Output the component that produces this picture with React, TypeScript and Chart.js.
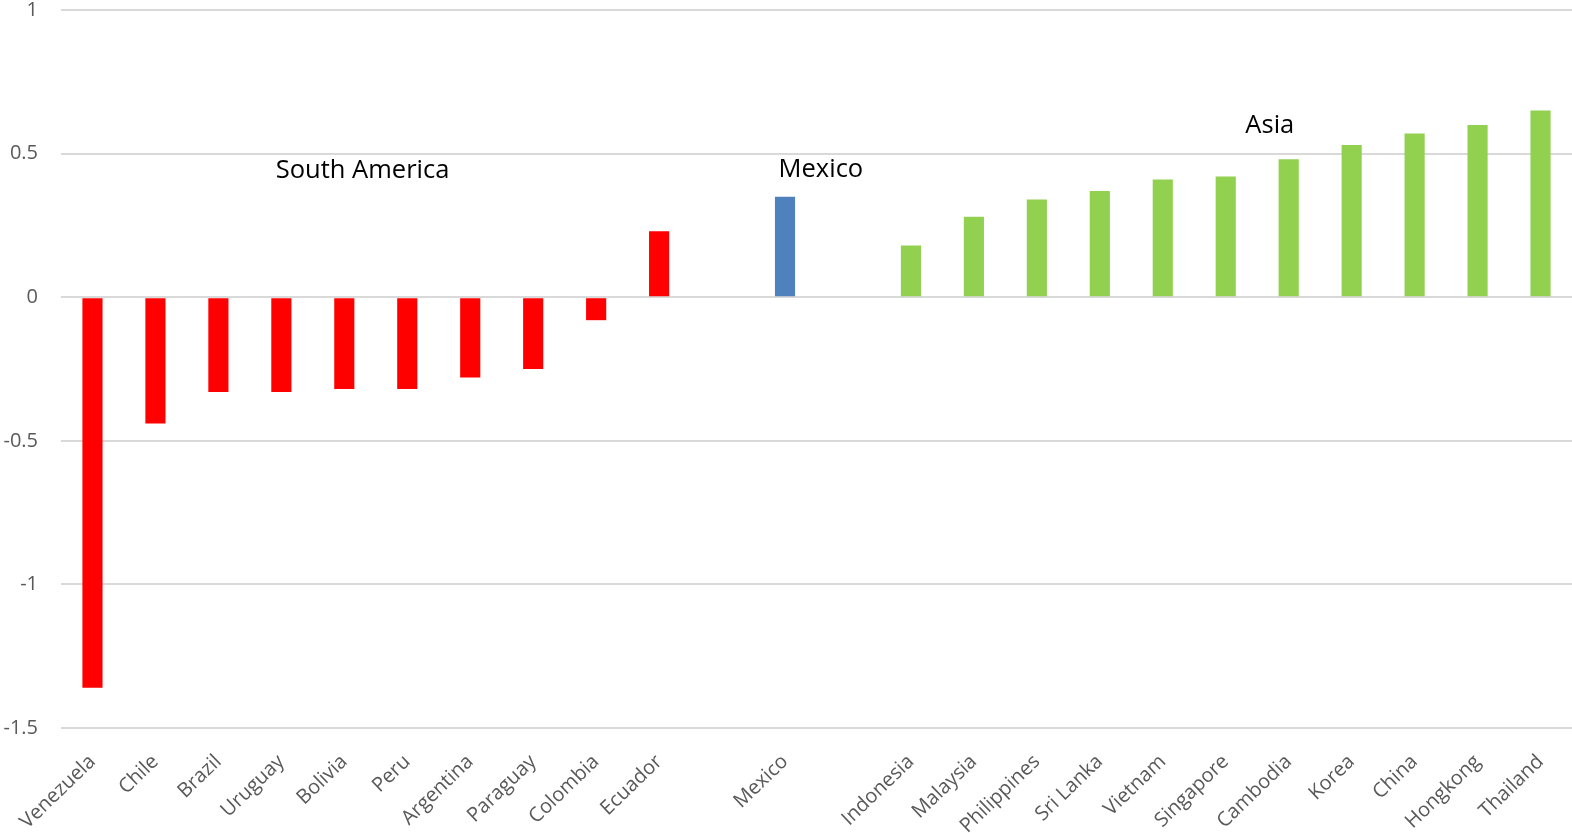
import React, { useEffect, useRef } from "react";
import { Chart, registerables } from "chart.js";

Chart.register(...registerables);

const categories: string[] = [
  "Venezuela", "Chile", "Brazil", "Uruguay", "Bolivia", "Peru", "Argentina", "Paraguay", "Colombia", "Ecuador",
  "",
  "Mexico",
  "",
  "Indonesia", "Malaysia", "Philippines", "Sri Lanka", "Vietnam", "Singapore", "Cambodia", "Korea", "China", "Hongkong", "Thailand",
];

const values: (number | null)[] = [
  -1.36, -0.44, -0.33, -0.33, -0.32, -0.32, -0.28, -0.25, -0.08, 0.23,
  null,
  0.35,
  null,
  0.18, 0.28, 0.34, 0.37, 0.41, 0.42, 0.48, 0.53, 0.57, 0.60, 0.65,
];

const groups: string[] = [
  "sa", "sa", "sa", "sa", "sa", "sa", "sa", "sa", "sa", "sa",
  "none",
  "mx",
  "none",
  "as", "as", "as", "as", "as", "as", "as", "as", "as", "as", "as",
];

const groupColors: Record<string, string> = {
  sa: "#FF0000",
  mx: "#4F81BD",
  as: "#92D050",
  none: "rgba(0,0,0,0)",
};

const annotationTexts: string[] = ["South America", "Mexico", "Asia"];
const annotationX: number[] = [4.29, 11.57, 18.7];
const annotationY: number[] = [0.44, 0.443, 0.597];

const yMin = -1.5;
const yMax = 1;
const yStep = 0.5;

const annotationPlugin = {
  id: "groupLabels",
  afterDatasetsDraw(chart: any) {
    const { ctx, scales } = chart;
    ctx.save();
    ctx.fillStyle = "#000000";
    ctx.font = "25.5px 'Open Sans'";
    ctx.textAlign = "center";
    ctx.textBaseline = "middle";
    annotationTexts.forEach((t, i) => {
      const x = scales.x.getPixelForValue(annotationX[i]);
      const y = scales.y.getPixelForValue(annotationY[i]);
      ctx.fillText(t, x, y);
    });
    ctx.restore();
  },
};

export default function App() {
  const ref = useRef<HTMLCanvasElement | null>(null);

  useEffect(() => {
    document.body.style.margin = "0";
    if (!ref.current) return;
    const chart = new Chart(ref.current, {
      type: "bar",
      data: {
        labels: categories,
        datasets: [
          {
            data: values as any,
            backgroundColor: groups.map((g) => groupColors[g]),
            borderWidth: 0,
            barPercentage: 0.32,
            categoryPercentage: 1,
          },
        ],
      },
      options: {
        animation: false,
        responsive: false,
        maintainAspectRatio: false,
        layout: { padding: { top: 10, right: 0, left: 0, bottom: 0 } },
        plugins: {
          legend: { display: false },
          tooltip: { enabled: false },
        },
        scales: {
          x: {
            grid: { display: false, drawTicks: false },
            border: { display: false },
            ticks: {
              autoSkip: false,
              maxRotation: 44,
              minRotation: 44,
              padding: 22,
              color: "#595959",
              font: { family: "'Open Sans'", size: 20 },
            },
            afterFit(scale: any) {
              scale.height = 105;
              scale.paddingLeft = 0;
              scale.paddingRight = 0;
            },
          },
          y: {
            min: yMin,
            max: yMax,
            grid: { color: "#D9D9D9", lineWidth: 2, drawTicks: false },
            border: { display: false },
            ticks: {
              stepSize: yStep,
              padding: 23,
              color: "#595959",
              font: { family: "'Open Sans'", size: 20 },
              callback: (v: any) => String(Number(v)),
            },
            afterFit(scale: any) {
              scale.width = 61;
              scale.paddingTop = 0;
              scale.paddingBottom = 0;
            },
          },
        },
      },
      plugins: [annotationPlugin],
    });
    return () => chart.destroy();
  }, []);

  return (
    <div style={{ position: "absolute", left: 0, top: 0, width: 1572, height: 833 }}>
      <canvas ref={ref} width={1572} height={833} style={{ width: 1572, height: 833 }} />
    </div>
  );
}
